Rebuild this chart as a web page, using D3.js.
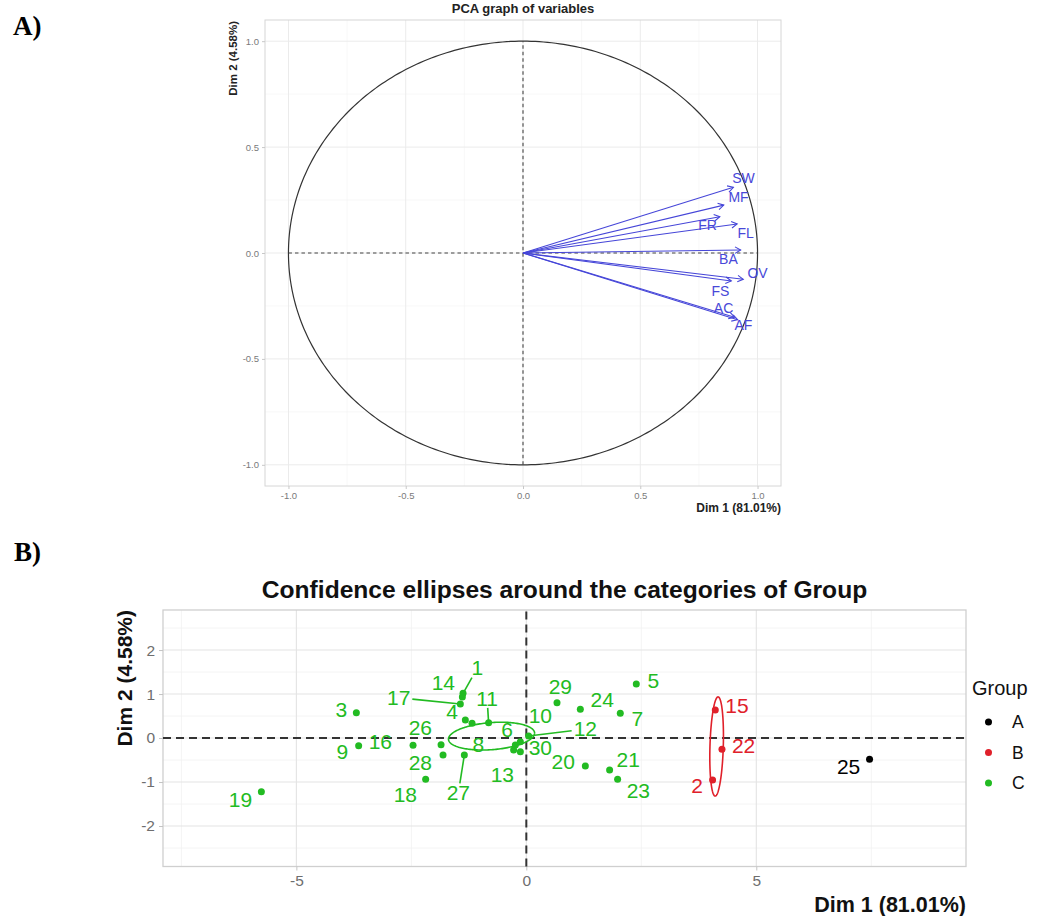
<!DOCTYPE html>
<html>
<head>
<meta charset="utf-8">
<script src="https://cdn.jsdelivr.net/npm/d3@7"></script>
<style>
  html, body { margin: 0; padding: 0; background: #ffffff; }
  svg { display: block; }
  text { font-family: "Liberation Sans", Arial, sans-serif; }
</style>
</head>
<body>
<svg id="chart" width="1043" height="916"></svg>
<script>
// ---------------- Panel A data: variables factor map ----------------
const varNames  = ["SW", "MF", "FR", "FL", "BA", "OV", "FS", "AC", "AF"];
const varDim1   = [0.897, 0.856, 0.839, 0.913, 0.928, 0.939, 0.888, 0.902, 0.915];
const varDim2   = [0.310, 0.226, 0.171, 0.137, 0.014, -0.124, -0.132, -0.303, -0.315];
const varLabDim1 = [0.940, 0.919, 0.787, 0.949, 0.876, 1.000, 0.842, 0.855, 0.940];
const varLabDim2 = [0.354, 0.264, 0.132, 0.094, -0.028, -0.094, -0.179, -0.259, -0.340];
const varTicks = [-1.0, -0.5, 0.0, 0.5, 1.0];
const varMinorTicks = [-0.75, -0.25, 0.25, 0.75];
const varTickLabels = ["-1.0", "-0.5", "0.0", "0.5", "1.0"];

// ---------------- Panel B data: individuals ----------------
const indIds   = ["1","2","3","4","5","6","7","8","9","10","11","12","13","14","15",
                  "16","17","18","19","20","21","22","23","24","25","26","27","28","29","30"];
const indGroup = ["C","B","C","C","C","C","C","C","C","C","C","C","C","C","B",
                  "C","C","C","C","C","C","B","C","C","A","C","C","C","C","C"];
const indDim1  = [-1.376, 4.050, -3.696, -1.326, 2.391, -0.239, 2.043, -1.180, -3.646, -0.130,
                  -0.820, 0.050, -0.276, -1.391, 4.109, -2.463, -1.435, -2.189, -5.761, 1.283,
                  1.811, 4.254, 1.985, 1.174, 7.463, -1.854, -1.348, -1.811, 0.667, -0.130];
const indDim2  = [1.016, -0.955, 0.575, 0.409, 1.227, -0.159, 0.561, 0.334, -0.175, -0.084,
                  0.348, 0.045, -0.273, 0.932, 0.636, -0.166, 0.773, -0.939, -1.220, -0.636,
                  -0.727, -0.257, -0.939, 0.652, -0.484, -0.152, -0.386, -0.386, 0.802, -0.311];
const indLabDim1 = [-1.065, 3.711, -4.022, -1.615, 2.761, -0.420, 2.413, -1.043, -4.000, 0.304,
                    -0.854, 1.283, -0.522, -1.804, 4.580, -3.174, -2.776, -2.630, -6.217, 0.804,
                    2.217, 4.724, 2.435, 1.652, 7.007, -2.304, -1.478, -2.304, 0.739, 0.304];
const indLabDim2 = [1.591, -1.091, 0.636, 0.598, 1.295, 0.198, 0.432, -0.159, -0.318, 0.500,
                    0.902, 0.205, -0.841, 1.250, 0.727, -0.091, 0.916, -1.295, -1.409, -0.545,
                    -0.500, -0.182, -1.205, 0.864, -0.652, 0.227, -1.250, -0.568, 1.159, -0.227];
const segmentIds = ["1", "11", "12", "17", "27"];
const groupNames = ["A", "B", "C"];
const groupColors = ["#000000", "#e0202a", "#22bb22"];
const indXTicks = [-5, 0, 5];
const indXMinor = [-7.5, -2.5, 2.5, 7.5];
const indYTicks = [-2, -1, 0, 1, 2];
const indYMinor = [-2.5, -1.5, -0.5, 0.5, 1.5, 2.5];
const chi2Level95 = 5.991; // chi-square(2 df) 95% quantile for the confidence ellipses

const svg = d3.select("#chart");
svg.append("rect").attr("width", 1043).attr("height", 916).attr("fill", "#fff");

// Panel tags
svg.append("text").attr("x", 13).attr("y", 35).text("A)")
  .style("font-family", "'Liberation Serif', 'Times New Roman', serif")
  .style("font-weight", "bold").style("font-size", "27px");
svg.append("text").attr("x", 14).attr("y", 561).text("B)")
  .style("font-family", "'Liberation Serif', 'Times New Roman', serif")
  .style("font-weight", "bold").style("font-size", "27px");

// ================= PANEL A =================
const xA = d3.scaleLinear().domain([-1.1, 1.1]).range([265, 781]);
const yA = d3.scaleLinear().domain([-1.1, 1.1]).range([486, 20]);
const gA = svg.append("g");

// grid
varMinorTicks.forEach(v => {
  gA.append("line").attr("x1", xA(v)).attr("x2", xA(v)).attr("y1", yA.range()[0]).attr("y2", yA.range()[1])
    .attr("stroke", "#f4f4f4").attr("stroke-width", 0.6);
  gA.append("line").attr("y1", yA(v)).attr("y2", yA(v)).attr("x1", xA.range()[0]).attr("x2", xA.range()[1])
    .attr("stroke", "#f4f4f4").attr("stroke-width", 0.6);
});
varTicks.forEach(v => {
  gA.append("line").attr("x1", xA(v)).attr("x2", xA(v)).attr("y1", yA.range()[0]).attr("y2", yA.range()[1])
    .attr("stroke", "#ebebeb").attr("stroke-width", 1);
  gA.append("line").attr("y1", yA(v)).attr("y2", yA(v)).attr("x1", xA.range()[0]).attr("x2", xA.range()[1])
    .attr("stroke", "#ebebeb").attr("stroke-width", 1);
});
gA.append("rect").attr("x", 265).attr("y", 20).attr("width", 516).attr("height", 466)
  .attr("fill", "none").attr("stroke", "#d6d6d6").attr("stroke-width", 1);

// axes
const axA_x = gA.append("g").attr("transform", `translate(0,${yA.range()[0]})`)
  .call(d3.axisBottom(xA).tickValues(varTicks).tickFormat((d, i) => varTickLabels[i]).tickSize(3).tickPadding(3));
const axA_y = gA.append("g").attr("transform", `translate(${xA.range()[0]},0)`)
  .call(d3.axisLeft(yA).tickValues(varTicks).tickFormat((d, i) => varTickLabels[i]).tickSize(3).tickPadding(3));
[axA_x, axA_y].forEach(a => {
  a.select(".domain").remove();
  a.selectAll(".tick line").attr("stroke", "#c8c8c8");
  a.selectAll(".tick text").attr("fill", "#7a7a7a").style("font-size", "9.5px")
    .style("font-family", "'Liberation Sans', Arial, sans-serif");
});

// unit circle
const circlePts = d3.range(0, 361).map(a => [Math.cos(a * Math.PI / 180), Math.sin(a * Math.PI / 180)]);
gA.append("path").attr("d", d3.line().x(d => xA(d[0])).y(d => yA(d[1]))(circlePts))
  .attr("fill", "none").attr("stroke", "#333").attr("stroke-width", 1.2);

// dashed axes inside circle
gA.append("line").attr("x1", xA(-1)).attr("x2", xA(1)).attr("y1", yA(0)).attr("y2", yA(0))
  .attr("stroke", "#444").attr("stroke-width", 1.1).attr("stroke-dasharray", "3.5,3");
gA.append("line").attr("x1", xA(0)).attr("x2", xA(0)).attr("y1", yA(-1)).attr("y2", yA(1))
  .attr("stroke", "#444").attr("stroke-width", 1.1).attr("stroke-dasharray", "3.5,3");

// arrows
const arrowCol = "#4646d8";
varNames.forEach((name, i) => {
  const x0 = xA(0), y0 = yA(0), x1 = xA(varDim1[i]), y1 = yA(varDim2[i]);
  gA.append("line").attr("x1", x0).attr("y1", y0).attr("x2", x1).attr("y2", y1)
    .attr("stroke", arrowCol).attr("stroke-width", 1.1);
  const ang = Math.atan2(y1 - y0, x1 - x0), L = 6.5, spread = Math.PI / 6;
  const p1 = [x1 - L * Math.cos(ang - spread), y1 - L * Math.sin(ang - spread)];
  const p2 = [x1 - L * Math.cos(ang + spread), y1 - L * Math.sin(ang + spread)];
  gA.append("path").attr("d", `M${p1[0]},${p1[1]}L${x1},${y1}L${p2[0]},${p2[1]}`)
    .attr("fill", "none").attr("stroke", arrowCol).attr("stroke-width", 1.1);
  gA.append("text").attr("x", xA(varLabDim1[i])).attr("y", yA(varLabDim2[i])).attr("dy", "0.35em")
    .attr("text-anchor", "middle").attr("fill", "#4848d8").style("font-size", "14px").text(name);
});

// titles A
gA.append("text").attr("x", 523).attr("y", 13).attr("text-anchor", "middle")
  .style("font-weight", "bold").style("font-size", "13px").attr("fill", "#222").text("PCA graph of variables");
gA.append("text").attr("transform", "translate(237,21) rotate(-90)").attr("text-anchor", "end")
  .style("font-weight", "bold").style("font-size", "11.5px").attr("fill", "#222").text("Dim 2 (4.58%)");
gA.append("text").attr("x", 781).attr("y", 512).attr("text-anchor", "end")
  .style("font-weight", "bold").style("font-size", "12px").attr("fill", "#222").text("Dim 1 (81.01%)");

// ================= PANEL B =================
const xB = d3.scaleLinear().domain([-7.9, 9.56]).range([163, 966]);
const yB = d3.scaleLinear().domain([-2.92, 2.91]).range([866.5, 610]);
const gB = svg.append("g");
const colorOf = d3.scaleOrdinal().domain(groupNames).range(groupColors);

indXMinor.forEach(v => gB.append("line").attr("x1", xB(v)).attr("x2", xB(v)).attr("y1", yB.range()[0]).attr("y2", yB.range()[1])
  .attr("stroke", "#f1f1f1").attr("stroke-width", 0.8));
indYMinor.forEach(v => gB.append("line").attr("y1", yB(v)).attr("y2", yB(v)).attr("x1", xB.range()[0]).attr("x2", xB.range()[1])
  .attr("stroke", "#f1f1f1").attr("stroke-width", 0.8));
indXTicks.forEach(v => gB.append("line").attr("x1", xB(v)).attr("x2", xB(v)).attr("y1", yB.range()[0]).attr("y2", yB.range()[1])
  .attr("stroke", "#e3e3e3").attr("stroke-width", 1.1));
indYTicks.forEach(v => gB.append("line").attr("y1", yB(v)).attr("y2", yB(v)).attr("x1", xB.range()[0]).attr("x2", xB.range()[1])
  .attr("stroke", "#e3e3e3").attr("stroke-width", 1.1));
gB.append("rect").attr("x", 163).attr("y", 610).attr("width", 803).attr("height", 256.5)
  .attr("fill", "none").attr("stroke", "#cfcfcf").attr("stroke-width", 1.3);

const axB_x = gB.append("g").attr("transform", `translate(0,${yB.range()[0]})`)
  .call(d3.axisBottom(xB).tickValues(indXTicks).tickFormat(d3.format("d")).tickSize(4).tickPadding(4));
const axB_y = gB.append("g").attr("transform", `translate(${xB.range()[0]},0)`)
  .call(d3.axisLeft(yB).tickValues(indYTicks).tickFormat(d3.format("d")).tickSize(4).tickPadding(4));
[axB_x, axB_y].forEach(a => {
  a.select(".domain").remove();
  a.selectAll(".tick line").attr("stroke", "#c4c4c4");
  a.selectAll(".tick text").attr("fill", "#6e6e6e").style("font-size", "15.5px")
    .style("font-family", "'Liberation Sans', Arial, sans-serif");
});
axB_x.selectAll(".tick text").text(d => String(d));
axB_y.selectAll(".tick text").text(d => String(d));

// dashed zero lines
gB.append("line").attr("x1", xB.range()[0]).attr("x2", xB.range()[1]).attr("y1", yB(0)).attr("y2", yB(0))
  .attr("stroke", "#333").attr("stroke-width", 2).attr("stroke-dasharray", "8,5");
gB.append("line").attr("x1", xB(0)).attr("x2", xB(0)).attr("y1", yB.range()[0]).attr("y2", yB.range()[1])
  .attr("stroke", "#333").attr("stroke-width", 2).attr("stroke-dasharray", "8,5");

// confidence ellipses computed from group data
groupNames.forEach(g => {
  const idx = indIds.map((d, i) => i).filter(i => indGroup[i] === g);
  const n = idx.length;
  if (n < 2) return;
  const xs = idx.map(i => indDim1[i]), ys = idx.map(i => indDim2[i]);
  const mx = d3.mean(xs), my = d3.mean(ys);
  let sxx = 0, syy = 0, sxy = 0;
  idx.forEach((i, k) => { sxx += (xs[k] - mx) ** 2; syy += (ys[k] - my) ** 2; sxy += (xs[k] - mx) * (ys[k] - my); });
  sxx /= (n - 1) * n; syy /= (n - 1) * n; sxy /= (n - 1) * n;
  const l11 = Math.sqrt(sxx), l21 = sxy / l11, l22 = Math.sqrt(Math.max(syy - l21 * l21, 0));
  const r = Math.sqrt(chi2Level95);
  const pts = d3.range(0, 361, 2).map(a => {
    const c = Math.cos(a * Math.PI / 180) * r, s = Math.sin(a * Math.PI / 180) * r;
    return [mx + l11 * c, my + l21 * c + l22 * s];
  });
  gB.append("path").attr("d", d3.line().x(d => xB(d[0])).y(d => yB(d[1]))(pts))
    .attr("fill", "none").attr("stroke", colorOf(g)).attr("stroke-width", 1.6);
});

// labels first (to measure), then segments, then points
const labelFont = 21;
const labels = gB.append("g");
const segs = gB.insert("g", () => labels.node());
indIds.forEach((id, i) => {
  const t = labels.append("text").attr("x", xB(indLabDim1[i])).attr("y", yB(indLabDim2[i])).attr("dy", "0.35em")
    .attr("text-anchor", "middle").attr("fill", colorOf(indGroup[i])).style("font-size", labelFont + "px").text(id);
  if (segmentIds.includes(id)) {
    const w = t.node().getComputedTextLength() / 2 + 2, h = labelFont * 0.36 + 2;
    const px = xB(indDim1[i]), py = yB(indDim2[i]);
    const lx = xB(indLabDim1[i]), ly = yB(indLabDim2[i]);
    const dx = px - lx, dy = py - ly;
    const s = Math.min(Math.abs(dx) > 0 ? w / Math.abs(dx) : Infinity, Math.abs(dy) > 0 ? h / Math.abs(dy) : Infinity);
    segs.append("line").attr("x1", lx + dx * s).attr("y1", ly + dy * s).attr("x2", px).attr("y2", py)
      .attr("stroke", colorOf(indGroup[i])).attr("stroke-width", 1.6);
  }
});
gB.append("g").selectAll("circle").data(indIds).join("circle")
  .attr("cx", (d, i) => xB(indDim1[i])).attr("cy", (d, i) => yB(indDim2[i])).attr("r", 3.5)
  .attr("fill", (d, i) => colorOf(indGroup[i]));

// titles B
gB.append("text").attr("x", 564.5).attr("y", 598).attr("text-anchor", "middle")
  .style("font-weight", "bold").style("font-size", "24.6px").attr("fill", "#111")
  .text("Confidence ellipses around the categories of Group");
gB.append("text").attr("transform", "translate(132,610) rotate(-90)").attr("text-anchor", "end")
  .style("font-weight", "bold").style("font-size", "21px").attr("fill", "#111").text("Dim 2 (4.58%)");
gB.append("text").attr("x", 966).attr("y", 912).attr("text-anchor", "end")
  .style("font-weight", "bold").style("font-size", "21.5px").attr("fill", "#111").text("Dim 1 (81.01%)");

// legend
const leg = gB.append("g");
leg.append("text").attr("x", 972).attr("y", 695).style("font-size", "20px").attr("fill", "#111").text("Group");
groupNames.forEach((g, k) => {
  const cy = 722 + k * 30.5;
  leg.append("circle").attr("cx", 988.5).attr("cy", cy).attr("r", 3.5).attr("fill", colorOf(g));
  leg.append("text").attr("x", 1012).attr("y", cy).attr("dy", "0.36em").style("font-size", "17.5px")
    .attr("fill", "#111").text(g);
});
</script>
</body>
</html>
